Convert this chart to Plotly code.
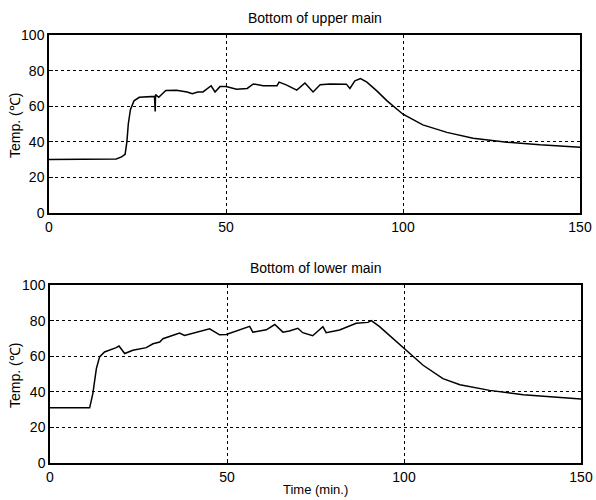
import plotly.graph_objects as go

# Upper main (bottom) temperature
upper_time = [0, 10, 19, 20.5, 21.5, 22.0, 22.4, 23.0, 24.0, 25.5, 27.5, 29.8, 30.0, 30.1, 31.0, 33.0,
              36.0, 39.0, 40.5, 42.0, 43.5, 45.8, 46.9, 48.3, 50.0, 53.0, 56.0, 57.7, 60.5,
              64.4, 65.0, 67.0, 70.0, 72.3, 74.6, 76.6, 79.4, 84.0, 85.0, 86.4, 88.0,
              89.8, 92.6, 95.5, 100.0, 105.6, 112.4, 119.8, 129.4, 138.7, 150.0]
upper_temp = [30.0, 30.0, 30.3, 31.5, 33.0, 40.0, 50.0, 58.0, 63.0, 65.0, 65.2, 65.5, 57.0, 66.5, 65.0, 68.8,
              69.0, 68.0, 67.0, 68.0, 68.0, 71.5, 68.0, 71.0, 71.0, 69.5, 70.0, 72.5, 71.5,
              71.5, 73.5, 72.0, 69.0, 73.0, 68.0, 72.0, 72.5, 72.4, 70.0, 74.3, 75.5,
              73.5, 68.6, 63.0, 55.5, 49.5, 45.3, 42.0, 39.8, 38.3, 37.0]

# Lower main (bottom) temperature
lower_time = [0, 5, 11.2, 12.1, 13.1, 14.0, 15.4, 18.7, 19.5, 21.1, 23.4, 27.2, 29.1, 31.0, 31.9,
              36.6, 38.0, 45.1, 46.0, 47.9, 49.8, 55.5, 56.4, 57.3, 61.1, 63.5, 65.8, 67.6,
              70.0, 71.4, 74.2, 77.1, 78.0, 81.8, 86.5, 89.8, 90.8, 93.1, 100.0, 105.4,
              111.0, 115.8, 124.2, 133.7, 150.0]
lower_temp = [31.0, 31.0, 31.0, 39.0, 53.0, 59.6, 62.4, 64.8, 65.7, 61.5, 63.3, 64.8, 67.0, 68.0, 69.8,
              73.0, 71.7, 75.4, 74.4, 72.0, 72.2, 76.0, 76.8, 73.5, 74.8, 77.8, 73.5, 74.2,
              75.7, 73.2, 71.5, 76.6, 73.2, 74.7, 78.5, 79.0, 80.0, 76.6, 64.3, 54.9,
              47.4, 44.0, 40.8, 38.3, 36.0]

x_ticks = [0, 50, 100, 150]
y_ticks = [0, 20, 40, 60, 80, 100]
titles = ["Bottom of upper main", "Bottom of lower main"]
y_label = "Temp. (℃)"
x_label = "Time (min.)"

W, H = 596, 500
FONT = "Liberation Sans, Arial, sans-serif"

def px(x):
    return x / W

def py(y):
    return 1 - y / H

fig = go.Figure()
fig.add_trace(go.Scatter(x=upper_time, y=upper_temp, mode="lines",
                         line=dict(color="black", width=1.5), xaxis="x", yaxis="y",
                         showlegend=False))
fig.add_trace(go.Scatter(x=lower_time, y=lower_temp, mode="lines",
                         line=dict(color="black", width=1.5), xaxis="x2", yaxis="y2",
                         showlegend=False))

axis_common = dict(showline=True, mirror=True, linecolor="black", linewidth=1.5,
                   showgrid=True, gridcolor="black", griddash="3px,3px", gridwidth=1,
                   ticks="inside", ticklen=4, tickcolor="black", zeroline=False,
                   tickfont=dict(family=FONT, size=14, color="black"), automargin=False)

def ann(text, x, y, size, angle=0):
    return dict(text=text, x=px(x), y=py(y), xref="paper", yref="paper", showarrow=False,
                xanchor="center", yanchor="middle", textangle=angle,
                font=dict(family=FONT, size=size, color="black"))

fig.update_layout(
    width=W, height=H,
    margin=dict(l=0, r=0, t=0, b=0),
    paper_bgcolor="white", plot_bgcolor="white",
    xaxis=dict(domain=[px(49), px(580)], range=[0, 150], tickvals=x_ticks, anchor="y", **axis_common),
    yaxis=dict(domain=[py(213), py(35)], range=[0, 100], tickvals=y_ticks, anchor="x", **axis_common),
    xaxis2=dict(domain=[px(50), px(581)], range=[0, 150], tickvals=x_ticks, anchor="y2", **axis_common),
    yaxis2=dict(domain=[py(463), py(285)], range=[0, 100], tickvals=y_ticks, anchor="x2", **axis_common),
    annotations=[
        ann(titles[0], 315, 18, 14),
        ann(titles[1], 316, 268, 14),
        ann(y_label, 15, 126, 14, -90),
        ann(y_label, 15, 376, 14, -90),
        ann(x_label, 315, 489, 13),
    ],
)

fig.write_html("out.html", config={"displayModeBar": False},
               post_script="document.body.style.margin='0';document.body.style.padding='0';")
